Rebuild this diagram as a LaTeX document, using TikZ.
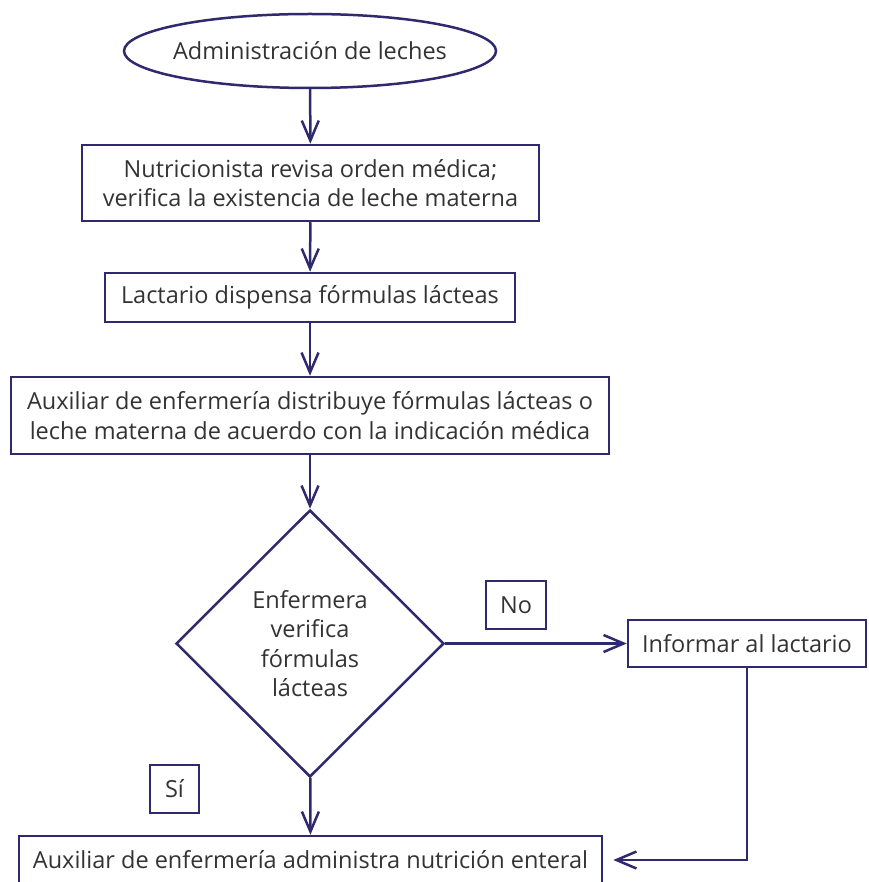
\documentclass[tikz,border=0pt]{standalone}
\usepackage{fontspec}
\setmainfont{Open Sans}
\usetikzlibrary{arrows.meta,shapes.geometric}
\definecolor{linea}{HTML}{2F2A6E}
\definecolor{texto}{HTML}{333333}
\newcommand{\flufont}{\fontsize{23.5}{29.5}\selectfont}
\tikzset{
    %Define standard arrow tip
    >={Straight Barb[length=20pt,width=17pt]},
    %Define style for boxes
    startnode/.style={
   	ellipse,
   	draw=linea, line width=2.5pt,
   	minimum width=372pt,
   	minimum height=74pt,
   	inner xsep=-6pt, inner ysep=0pt,
   	font=\flufont, text=texto,
   	align=center
   },
    procbox/.style={
   	rectangle,
   	draw=linea, line width=2.5pt,
   	inner sep=0pt,
   	font=\flufont, text=texto,
   	align=center
   },
    decision/.style={
   	diamond,
   	draw=linea, line width=2.5pt,
   	minimum width=268pt,
   	minimum height=267pt,
   	inner sep=0pt,
   	font=\flufont, text=texto,
   	align=center
   },
    % Define arrow style
    pil/.style={
           ->,
           draw=linea,
           line width=2.5pt}
}
\begin{document}
\begin{tikzpicture}[x=1pt,y=-1pt,pil]
		\useasboundingbox (0,0) rectangle (868,882);
		\node[startnode] (start) at (310,51) {Administración de leches};
		\node[procbox, minimum width=457pt, minimum height=76pt] (rev) at (310.5,183)
			{Nutricionista revisa orden médica;\\verifica la existencia de leche materna};
		\node[procbox, minimum width=410pt, minimum height=49pt] (lact) at (310,297.5)
			{Lactario dispensa fórmulas lácteas};
		\node[procbox, minimum width=598pt, minimum height=77pt] (dist) at (310,415.5)
			{Auxiliar de enfermería distribuye fórmulas lácteas o\\leche materna de acuerdo con la indicación médica};
		\node[decision] (ver) at (310,643.5) {Enfermera\\verifica\\fórmulas\\lácteas};
		\node[procbox, minimum width=60pt, minimum height=48pt] (no) at (516,605) {No};
		\node[procbox, minimum width=238pt, minimum height=47pt] (inf) at (747,643.5)
			{Informar al lactario};
		\node[procbox, minimum width=49pt, minimum height=48pt] (si) at (174.5,789) {Sí};
		\node[procbox, minimum width=583pt, minimum height=48pt] (adm) at (310.5,860)
			{Auxiliar de enfermería administra nutrición enteral};
		\path
		(start) edge (rev)
		(rev) edge (lact)
		(lact) edge (dist)
		(dist) edge (ver)
		(ver) edge (inf)
		(ver) edge (adm);
		\draw[shorten >=10pt] (inf.south) |- (adm.east);
		\end{tikzpicture}
\end{document}
